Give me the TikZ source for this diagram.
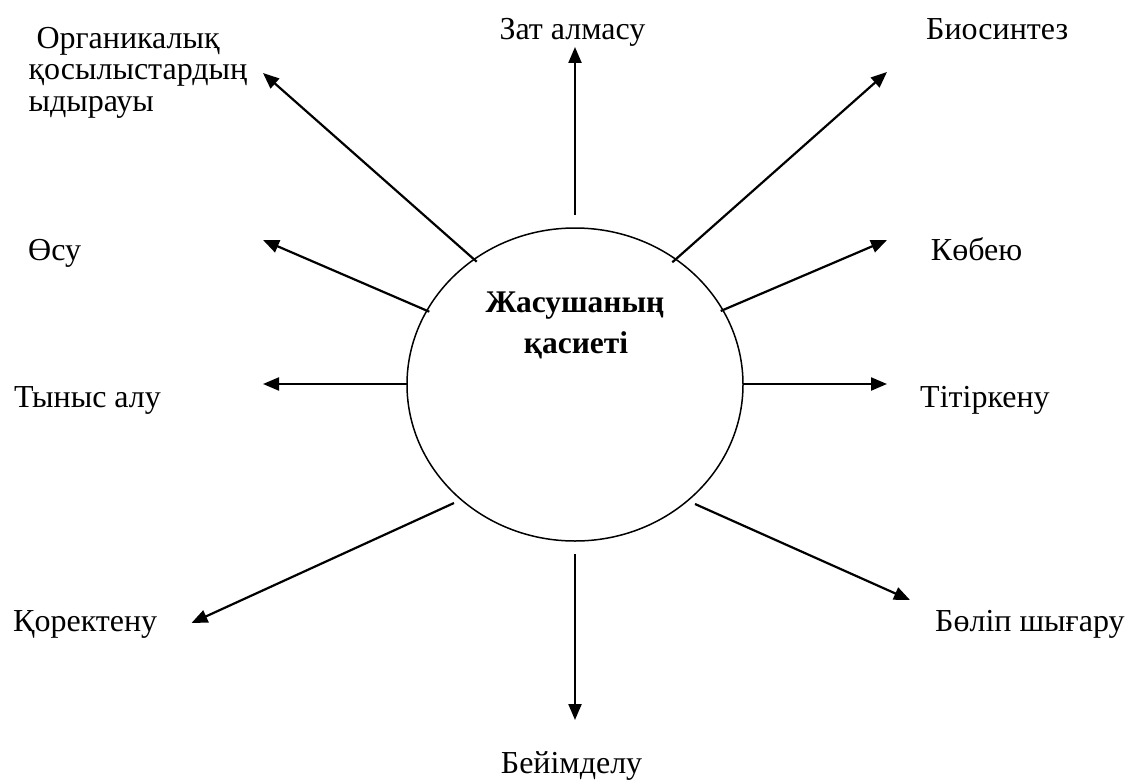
\documentclass[tikz,border=0pt]{standalone}
\usepackage{fontspec}
\setmainfont{Liberation Serif}
\usetikzlibrary{arrows.meta,shapes.geometric}
\begin{document}
\begin{tikzpicture}[x=1pt,y=-1pt,
  lbl/.style={anchor=base west,inner sep=0pt,font=\fontsize{32}{31.7}\selectfont},
  ttl/.style={anchor=base,inner sep=0pt,font=\fontsize{31.5}{31.5}\selectfont\bfseries},
  ray/.style={line width=2.2pt,-{Triangle[length=16pt,width=13pt]}},
  cellbody/.style={draw,line width=1.5pt,ellipse,minimum width=336pt,minimum height=313pt,inner sep=0pt}]
\useasboundingbox (0,0) rectangle (1126,781);
\fill[white] (0,0) rectangle (1126,781);

% central cell
\node[cellbody] (cell) at (575,384.5) {};
\node[ttl] (title1) at (575,312.5) {Жасушаның};
\node[ttl] (title2) at (576,353.5) {қасиеті};

% labels (the three-line one is anchored on its last line)
\node[lbl,align=left] (org) at (28.3,111.7) {\hspace*{8pt}Органикалық\\қосылыстардың\\ыдырауы};
\node[lbl] (zat) at (499.3,40) {Зат алмасу};
\node[lbl] (bio) at (926,40) {Биосинтез};
\node[lbl] (osu) at (28,260) {Өсу};
\node[lbl] (kob) at (930.7,260.7) {Көбею};
\node[lbl] (tyn) at (14,407) {Тыныс алу};
\node[lbl] (tit) at (920,407) {Тітіркену};
\node[lbl] (kor) at (13,631.7) {Қоректену};
\node[lbl] (bol) at (935,631.7) {Бөліп шығару};
\node[lbl] (bei) at (500.7,773.3) {Бейімделу};

% arrow ends
\coordinate (s1) at (575,215);     \coordinate (e1) at (575,47);
\coordinate (s2) at (672.3,262.3); \coordinate (e2) at (887,72);
\coordinate (s3) at (720.7,311);   \coordinate (e3) at (887,240);
\coordinate (s4) at (742.7,384);   \coordinate (e4) at (887,384);
\coordinate (s5) at (695,504);     \coordinate (e5) at (910,600);
\coordinate (s6) at (575,554);     \coordinate (e6) at (575,720);
\coordinate (s7) at (454,503);     \coordinate (e7) at (191.5,623);
\coordinate (s8) at (406.7,384);   \coordinate (e8) at (263,384);
\coordinate (s9) at (429.3,311.7); \coordinate (e9) at (263,240);
\coordinate (s10) at (476.7,261.7);\coordinate (e10) at (263,73);

\foreach \i in {1,...,10} \draw[ray] (s\i) -- (e\i);
\end{tikzpicture}
\end{document}
